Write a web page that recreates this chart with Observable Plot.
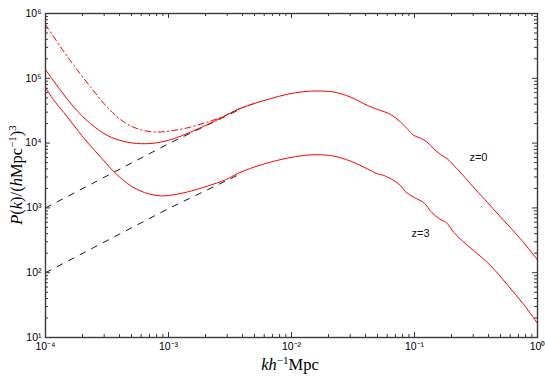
<!DOCTYPE html>
<html><head><meta charset="utf-8">
<script src="https://cdn.jsdelivr.net/npm/d3@7"></script>
<script src="https://cdn.jsdelivr.net/npm/@observablehq/plot@0.6"></script>
<style>body{margin:0;background:#fff} #chart{width:545px;height:378px}</style>
</head><body><div id="chart"></div>
<script>
// log10 values
const z0LogK = [-4.0,-3.878,-3.770,-3.634,-3.498,-3.363,-3.228,-3.092,-2.957,-2.821,-2.685,-2.56,-2.441,-2.306,-2.171,-2.035,-1.900,-1.791,-1.656,-1.520,-1.385,-1.303,-1.195,-1.114,-1.059,-1.006,-0.951,-0.897,-0.843,-0.789,-0.734,-0.680,-0.612,-0.545,-0.409,-0.274,-0.138,0.0];
const z0LogP = [5.134,4.815,4.556,4.300,4.119,4.026,3.991,4.006,4.068,4.170,4.284,4.400,4.516,4.609,4.686,4.753,4.794,4.804,4.788,4.711,4.583,4.521,4.444,4.325,4.222,4.119,4.077,4.015,3.913,3.825,3.759,3.655,3.516,3.372,3.088,2.805,2.522,2.198];

const z3LogK = [-4.0,-3.932,-3.850,-3.770,-3.690,-3.607,-3.540,-3.472,-3.40,-3.336,-3.28,-3.228,-3.16,-3.092,-3.038,-2.957,-2.821,-2.685,-2.537,-2.441,-2.306,-2.171,-2.035,-1.900,-1.791,-1.656,-1.520,-1.385,-1.303,-1.250,-1.168,-1.114,-1.073,-1.006,-0.924,-0.860,-0.80,-0.740,-0.680,-0.599,-0.518,-0.382,-0.246,-0.111,0.0];
const z3LogP = [4.856,4.660,4.470,4.275,4.080,3.900,3.760,3.612,3.480,3.380,3.310,3.262,3.215,3.192,3.185,3.203,3.258,3.335,3.434,3.527,3.629,3.706,3.768,3.810,3.821,3.799,3.722,3.604,3.527,3.501,3.423,3.346,3.250,3.165,3.080,2.930,2.835,2.770,2.620,2.470,2.342,2.110,1.816,1.507,1.218];

const z0AltLogK = [-4.0,-3.878,-3.770,-3.634,-3.498,-3.363,-3.228,-3.092,-2.957,-2.821,-2.685,-2.56,-2.441,-2.306];
const z0AltLogP = [5.83,5.484,5.201,4.866,4.556,4.325,4.207,4.170,4.196,4.247,4.325,4.405,4.516,4.609];

const linLogK = [-4.0,-3.0,-2.41];
const linZ0LogP = [3.0,3.99,4.53];
const linZ3LogP = [2.0,2.99,3.53];

const xTicks = [1e-4,1e-3,1e-2,1e-1,1];
const xTickLabels = ["10\u207B\u2074","10\u207B\u00B3","10\u207B\u00B2","10\u207B\u00B9","10\u2070"];
const yTicks = [1e1,1e2,1e3,1e4,1e5,1e6];
const yTickLabels = ["10\u00B9","10\u00B2","10\u00B3","10\u2074","10\u2075","10\u2076"];
const curveLabels = ["z=0","z=3"];
const curveLabelK = [0.331,0.112];
const curveLabelP = [6010,402];

const rows = (lk, lp) => lk.map((v,i)=>({k:10**v, P:10**lp[i]}));
const z0 = rows(z0LogK, z0LogP), z3 = rows(z3LogK, z3LogP), z0Alt = rows(z0AltLogK, z0AltLogP);
const lin0 = rows(linLogK, linZ0LogP), lin3 = rows(linLogK, linZ3LogP);
const minorX = [], minorY = [];
for (let e=-4;e<0;e++) for (let m=2;m<10;m++) minorX.push(m*10**e);
for (let e=1;e<6;e++) for (let m=2;m<10;m++) minorY.push(m*10**e);
const labels = curveLabels.map((t,i)=>({t, k:curveLabelK[i], P:curveLabelP[i]}));

const W=545,H=378,mL=45,mR=8,mT=13,mB=41;
const pw=W-mL-mR, ph=H-mT-mB;
const axisCol="#3a3a3a";
const chart = Plot.plot({
  width:W, height:H, marginLeft:mL, marginRight:mR, marginTop:mT, marginBottom:mB,
  x:{type:"log", domain:[1e-4,1]},
  y:{type:"log", domain:[10,1e6]},
  style:{fontFamily:"'Liberation Sans', Arial, sans-serif", fontSize:"10.5px", color:"#000", background:"#fff"},
  marks:[
    Plot.line(lin0,{x:"k",y:"P",stroke:"#000",strokeWidth:0.9,strokeDasharray:"6,7"}),
    Plot.line(lin3,{x:"k",y:"P",stroke:"#000",strokeWidth:0.9,strokeDasharray:"6,7"}),
    Plot.line(z0Alt,{x:"k",y:"P",stroke:"#ff0000",strokeWidth:1,strokeDasharray:"6,3,1.5,3",curve:"catmull-rom"}),
    Plot.line(z0,{x:"k",y:"P",stroke:"#ff0000",strokeWidth:1,curve:"catmull-rom"}),
    Plot.line(z3,{x:"k",y:"P",stroke:"#ff0000",strokeWidth:1,curve:"catmull-rom"}),
    Plot.text(labels,{x:"k",y:"P",text:"t",fontSize:11,fill:"#111"}),
    Plot.tickX(xTicks,{x:d=>d,insetTop:ph-5,stroke:axisCol}),
    Plot.tickX(xTicks,{x:d=>d,insetBottom:ph-5,stroke:axisCol}),
    Plot.tickX(minorX,{x:d=>d,insetTop:ph-3,stroke:axisCol}),
    Plot.tickX(minorX,{x:d=>d,insetBottom:ph-3,stroke:axisCol}),
    Plot.tickY(yTicks,{y:d=>d,insetRight:pw-5,stroke:axisCol}),
    Plot.tickY(yTicks,{y:d=>d,insetLeft:pw-5,stroke:axisCol}),
    Plot.tickY(minorY,{y:d=>d,insetRight:pw-3,stroke:axisCol}),
    Plot.tickY(minorY,{y:d=>d,insetLeft:pw-3,stroke:axisCol}),
    Plot.axisX({ticks:xTicks,tickSize:0,tickPadding:5,tickFormat:d=>xTickLabels[xTicks.indexOf(d)],label:null}),
    Plot.axisY({ticks:yTicks,tickSize:0,tickPadding:4,tickFormat:d=>yTickLabels[yTicks.indexOf(d)],label:null}),
    Plot.frame({stroke:axisCol,strokeWidth:1.4})
  ]
});
document.getElementById("chart").appendChild(chart);
const svg = d3.select(chart);
const serif = "'Liberation Serif', 'DejaVu Serif', serif";
const xl = svg.append("text").attr("x",290).attr("y",370).attr("text-anchor","middle")
  .attr("font-family",serif).attr("font-size",16.5).attr("fill","#000");
xl.append("tspan").attr("font-style","italic").text("kh");
xl.append("tspan").attr("font-size",11).attr("dy",-6).text("\u22121");
xl.append("tspan").attr("dy",6).text("Mpc");
const yl = svg.append("text").attr("transform","translate(22,175) rotate(-90)").attr("text-anchor","middle")
  .attr("font-family",serif).attr("font-size",16.5).attr("fill","#000");
yl.append("tspan").attr("font-style","italic").text("P");
yl.append("tspan").text("(");
yl.append("tspan").attr("font-style","italic").text("k");
yl.append("tspan").text(")/(");
yl.append("tspan").attr("font-style","italic").text("h");
yl.append("tspan").text("Mpc");
yl.append("tspan").attr("font-size",11).attr("dy",-6).text("\u22121");
yl.append("tspan").attr("dy",6).text(")");
yl.append("tspan").attr("font-size",11).attr("dy",-6).text("3");
</script>
</body></html>
